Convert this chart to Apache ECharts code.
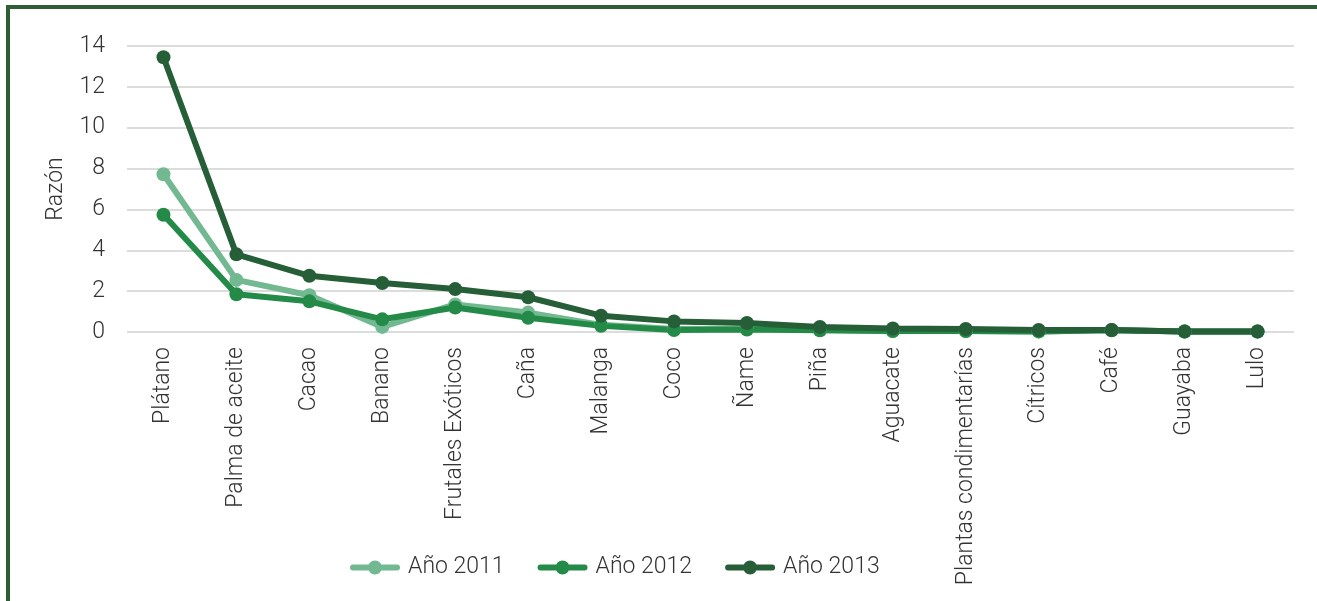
<!DOCTYPE html>
<html><head><meta charset="utf-8">
<script src="https://cdn.jsdelivr.net/npm/echarts@6/dist/echarts.min.js"></script>
<style>html,body{margin:0;padding:0;background:#fff}#c{width:1317px;height:601px}</style>
</head><body><div id="c"></div>
<script>
const categories = ["Plátano","Palma de aceite","Cacao","Banano","Frutales Exóticos","Caña","Malanga","Coco","Ñame","Piña","Aguacate","Plantas condimentarías","Cítricos","Café","Guayaba","Lulo"];
const y2011 = [7.72,2.55,1.8,0.25,1.35,0.95,0.35,0.15,0.15,0.1,0.05,0.05,0.03,0.1,0.02,0.02];
const y2012 = [5.74,1.85,1.5,0.62,1.2,0.7,0.3,0.1,0.12,0.08,0.05,0.05,0.03,0.08,0.02,0.02];
const y2013 = [13.45,3.8,2.75,2.4,2.1,1.7,0.8,0.52,0.44,0.25,0.17,0.15,0.1,0.1,0.03,0.03];
const seriesNames = ["Año 2011","Año 2012","Año 2013"];
const colors = ["#72b891","#238a47","#265f37"];
const font = "Roboto";
const txt = '#333333';
const legendIcon = 'path://M3,4 H47 A3,3 0 0 1 47,10 H3 A3,3 0 0 1 3,4 Z M32,7 A7,7 0 1 1 18,7 A7,7 0 1 1 32,7 Z';
const chart = echarts.init(document.getElementById('c'));
const mk = (name, data, color) => ({
  name, type:'line', data, color, symbol:'circle', symbolSize:14,
  lineStyle:{width:6, color}, itemStyle:{color}, z: 2
});
chart.setOption({
  backgroundColor:'#fff',
  animation:false,
  textStyle:{fontFamily:font},
  graphic:[{type:'rect', shape:{x:8,y:7,width:1500,height:800}, style:{fill:'none', stroke:'#2e5e36', lineWidth:4}, silent:true}],
  grid:{left:127, right:23, top:46, bottom:269, containLabel:false},
  legend:{top:551, left:345, icon:legendIcon, itemWidth:50, itemHeight:14, itemGap:33,
    textStyle:{fontFamily:font, fontWeight:300, fontSize:23, color:txt, padding:[0,0,0,3]},
    data:seriesNames},
  xAxis:{type:'category', data:categories, boundaryGap:true,
    axisLine:{show:false}, axisTick:{show:false},
    axisLabel:{rotate:90, interval:0, fontFamily:font, fontWeight:300, fontSize:23, color:txt, margin:15}},
  yAxis:{type:'value', min:0, max:14, interval:2, name:'Razón', nameLocation:'middle', nameGap:59, nameRotate:90,
    nameTextStyle:{fontFamily:font, fontWeight:300, fontSize:23, color:txt},
    axisLine:{show:false}, axisTick:{show:false},
    axisLabel:{fontFamily:font, fontWeight:300, fontSize:23, color:txt, margin:22},
    splitLine:{lineStyle:{color:'#d0d0d0', width:1.6}}},
  series:[mk(seriesNames[0],y2011,colors[0]), mk(seriesNames[1],y2012,colors[1]), mk(seriesNames[2],y2013,colors[2])]
});
</script></body></html>
